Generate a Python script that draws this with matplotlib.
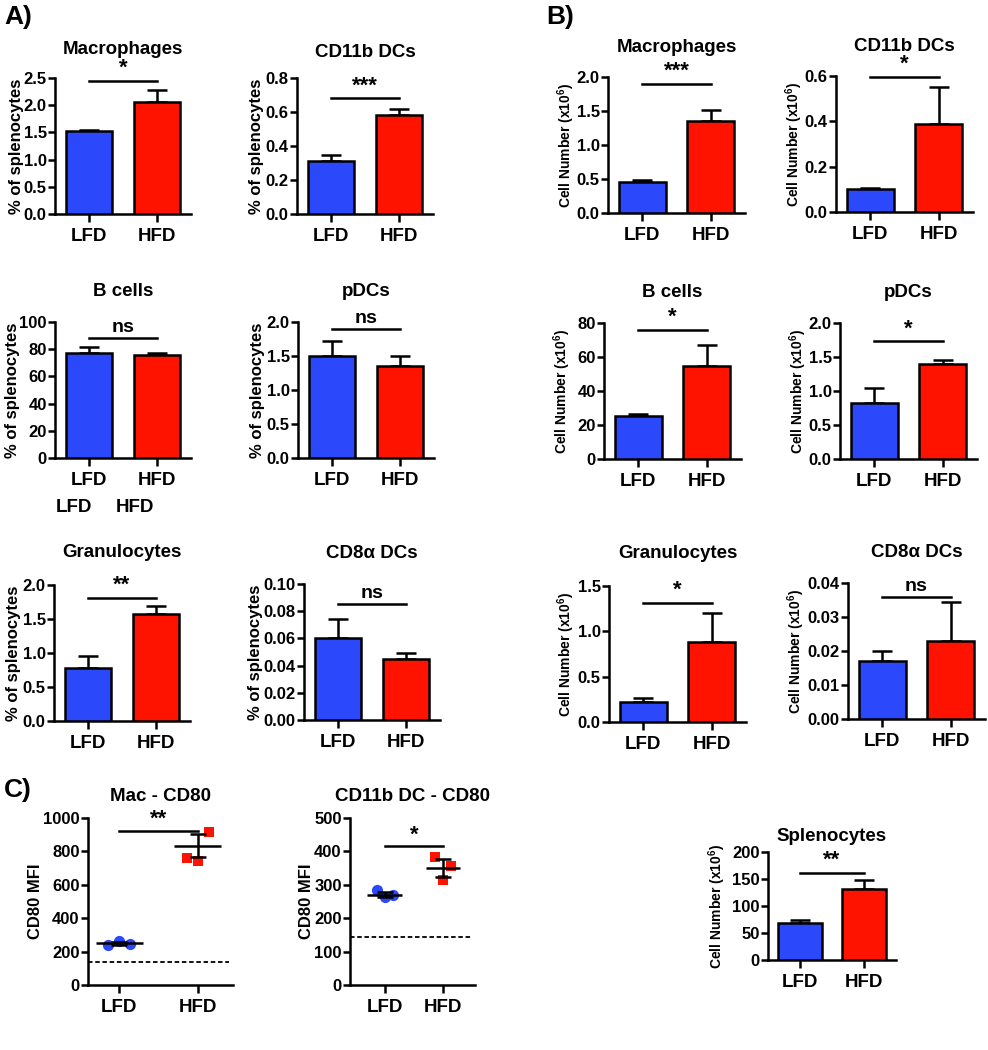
import matplotlib
matplotlib.use('Agg')
import matplotlib.pyplot as plt
from matplotlib import ticker
import numpy as np

plt.rcParams['font.family'] = ['Liberation Sans', 'DejaVu Sans']
plt.rcParams['font.weight'] = 'bold'
plt.rcParams['axes.labelweight'] = 'bold'
plt.rcParams['axes.titleweight'] = 'bold'
plt.rcParams['mathtext.fontset'] = 'custom'
plt.rcParams['mathtext.rm'] = 'Liberation Sans:bold'
plt.rcParams['mathtext.bf'] = 'Liberation Sans:bold'

BLUE = '#2b48fb'
RED = '#fe1300'
groups = ['LFD', 'HFD']
pct_label = '% of splenocytes'
num_label = r'Cell Number (x10$^{6}$)'

# A) % of splenocytes : mean, upper SEM, significance line height, label
a_titles = ['Macrophages', 'CD11b DCs', 'B cells', 'pDCs', 'Granulocytes', 'CD8\u03b1 DCs']
a_means = [[1.53, 2.05], [0.31, 0.58], [77.5, 76.0], [1.50, 1.36], [0.78, 1.58], [0.0605, 0.045]]
a_errs = [[0.02, 0.23], [0.035, 0.035], [4.0, 1.0], [0.22, 0.14], [0.17, 0.11], [0.014, 0.0045]]
a_ymax = [2.5, 0.8, 100, 2.0, 2.0, 0.10]
a_step = [0.5, 0.2, 20, 0.5, 0.5, 0.02]
a_fmt = ['%.1f', '%.1f', '%d', '%.1f', '%.1f', '%.2f']
a_sig = ['*', '***', 'ns', 'ns', '**', 'ns']
a_sig_y = [2.45, 0.68, 88, 1.9, 1.81, 0.085]

# B) cell numbers (x10^6)
b_titles = ['Macrophages', 'CD11b DCs', 'B cells', 'pDCs', 'Granulocytes', 'CD8\u03b1 DCs']
b_means = [[0.45, 1.35], [0.10, 0.39], [25.5, 54.5], [0.82, 1.39], [0.22, 0.88], [0.017, 0.023]]
b_errs = [[0.035, 0.17], [0.008, 0.16], [0.7, 12.5], [0.23, 0.06], [0.045, 0.32], [0.003, 0.0115]]
b_ymax = [2.0, 0.6, 80, 2.0, 1.5, 0.04]
b_step = [0.5, 0.2, 20, 0.5, 0.5, 0.01]
b_fmt = ['%.1f', '%.1f', '%d', '%.1f', '%.1f', '%.2f']
b_sig = ['***', '*', '*', '*', '*', 'ns']
b_sig_y = [1.9, 0.595, 76, 1.73, 1.31, 0.036]

# C) CD80 MFI, individual mice
mac_lfd = [240, 262, 248]
mac_hfd = [760, 745, 915]
mac_mean = [250, 835]
mac_sem = [8, 70]
mac_ctrl = 135
dc_lfd = [285, 262, 268]
dc_hfd = [383, 315, 355]
dc_mean = [270, 350]
dc_sem = [8, 27]
dc_ctrl = 145
jitter = [-0.14, 0.0, 0.14]

# Splenocytes
spl_means = [68, 131]
spl_errs = [7, 17]

W, H = 988, 1050
fig = plt.figure(figsize=(W / 100, H / 100), dpi=100)


def add_ax(left, top, width, height):
    return fig.add_axes([left / W, 1 - (top + height) / H, width / W, height / H])


def style(ax, ymax, step, fmt, ylabel, ylsize, lab_off):
    ax.spines['top'].set_visible(False)
    ax.spines['right'].set_visible(False)
    for s in ['left', 'bottom']:
        ax.spines[s].set_linewidth(1.8)
    ax.set_ylim(0, ymax)
    ax.set_yticks(np.arange(0, ymax + step / 2, step))
    ax.yaxis.set_major_formatter(ticker.FormatStrFormatter(fmt))
    ax.set_xticks([0, 1])
    ax.set_xticklabels(groups)
    ax.tick_params(axis='y', length=5, width=1.8, labelsize=12, pad=1)
    ax.tick_params(axis='x', length=6, width=1.8, labelsize=13.5, pad=4)
    for lab in ax.get_yticklabels() + ax.get_xticklabels():
        lab.set_fontweight('bold')
    ax.set_ylabel(ylabel, fontsize=ylsize)
    # label right edge sits lab_off pixels left of the spine
    w_px = ax.get_position().width * W
    ax.yaxis.set_label_coords(-lab_off / w_px, 0.5)


def bar_panel(ax, means, errs, ymax, step, fmt, title, ylabel, ylsize, sig, sig_y, tpad, lab_off):
    ax.bar([0, 1], means, width=0.68, color=[BLUE, RED], edgecolor='k', linewidth=1.8, zorder=3)
    ax.errorbar([0, 1], means, yerr=[[0, 0], errs], fmt='none', ecolor='k',
                elinewidth=1.8, capsize=7.5, capthick=1.8, zorder=2)
    ax.set_xlim(-0.5, 1.5)
    style(ax, ymax, step, fmt, ylabel, ylsize, lab_off)
    ax.plot([0, 1], [sig_y, sig_y], color='k', lw=1.8, clip_on=False)
    ax.text(0.5, sig_y + ymax * 0.015, sig, ha='center', va='bottom',
            fontsize=16 if sig != 'ns' else 14, fontweight='bold')
    if title:
        ax.set_title(title, fontsize=13.5, pad=tpad)


# positions (left, top) in pixels of the bar panels
a_pos = [(55, 78), (297, 78), (55, 322), (298, 322), (54, 585), (304, 584)]
b_pos = [(608, 77), (836, 76), (604, 323), (840, 323), (609, 586), (848, 583)]
a_pads = [17, 15, 19, 19, 20, 19]
b_pads = [18, 18, 19, 19, 20, 19]
a_laboff = [31, 33, 35, 33, 33, 41]
b_laboff = [31, 31, 31, 31, 32, 41]

for i in range(6):
    l, t = a_pos[i]
    ax = add_ax(l, t, 136, 136)
    bar_panel(ax, a_means[i], a_errs[i], a_ymax[i], a_step[i], a_fmt[i], a_titles[i],
              pct_label, 12, a_sig[i], a_sig_y[i], a_pads[i], a_laboff[i])
for i in range(6):
    l, t = b_pos[i]
    ax = add_ax(l, t, 137, 136)
    bar_panel(ax, b_means[i], b_errs[i], b_ymax[i], b_step[i], b_fmt[i], b_titles[i],
              num_label, 10, b_sig[i], b_sig_y[i], b_pads[i], b_laboff[i])

# stray group labels under the B cells panel
fig.text(74 / W, 1 - 507 / H, 'LFD', ha='center', va='center', fontsize=13.5)
fig.text(135 / W, 1 - 507 / H, 'HFD', ha='center', va='center', fontsize=13.5)


def dot_panel(ax, lfd, hfd, means, sems, ctrl, ymax, step, title, sig, sig_y, xlim, lab_off):
    ax.set_xlim(*xlim)
    ax.axhline(ctrl, xmin=0, xmax=0.97, color='k', lw=1.3, ls=(0, (2.5, 1.5)))
    ax.scatter(np.array(jitter), lfd, s=65, marker='o', color=BLUE, zorder=3, linewidths=0)
    ax.scatter(1 + np.array(jitter), hfd, s=60, marker='s', color=RED, zorder=3, linewidths=0)
    ax.hlines(means, [-0.3, 0.7], [0.3, 1.3], color='k', lw=1.8, zorder=4)
    ax.errorbar([0, 1], means, yerr=sems, fmt='none', ecolor='k', elinewidth=1.8,
                capsize=6, capthick=1.8, zorder=4)
    style(ax, ymax, step, '%d', 'CD80 MFI', 12, lab_off)
    ax.plot([0, 1], [sig_y, sig_y], color='k', lw=1.8, clip_on=False)
    ax.text(0.5, sig_y + ymax * 0.005, sig, ha='center', va='bottom', fontsize=16)
    ax.set_title(title, fontsize=13.5, pad=12)


ax = add_ax(88, 818, 145, 167)
dot_panel(ax, mac_lfd, mac_hfd, mac_mean, mac_sem, mac_ctrl, 1000, 200, 'Mac - CD80', '**', 925,
          (-0.4, 1.45), 45)

ax = add_ax(350, 818, 125, 167)
dot_panel(ax, dc_lfd, dc_hfd, dc_mean, dc_sem, dc_ctrl, 500, 100, 'CD11b DC - CD80', '*', 415,
          (-0.6, 1.55), 36)

ax = add_ax(768, 852, 128, 108)
bar_panel(ax, spl_means, spl_errs, 200, 50, '%d', 'Splenocytes', num_label, 10, '**', 162, 8, 40)

fig.text(4 / W, 1 - 17 / H, 'A)', fontsize=19, va='center')
fig.text(546 / W, 1 - 17 / H, 'B)', fontsize=19, va='center')
fig.text(4 / W, 1 - 790 / H, 'C)', fontsize=19, va='center')

fig.savefig('out.png', dpi=100)
